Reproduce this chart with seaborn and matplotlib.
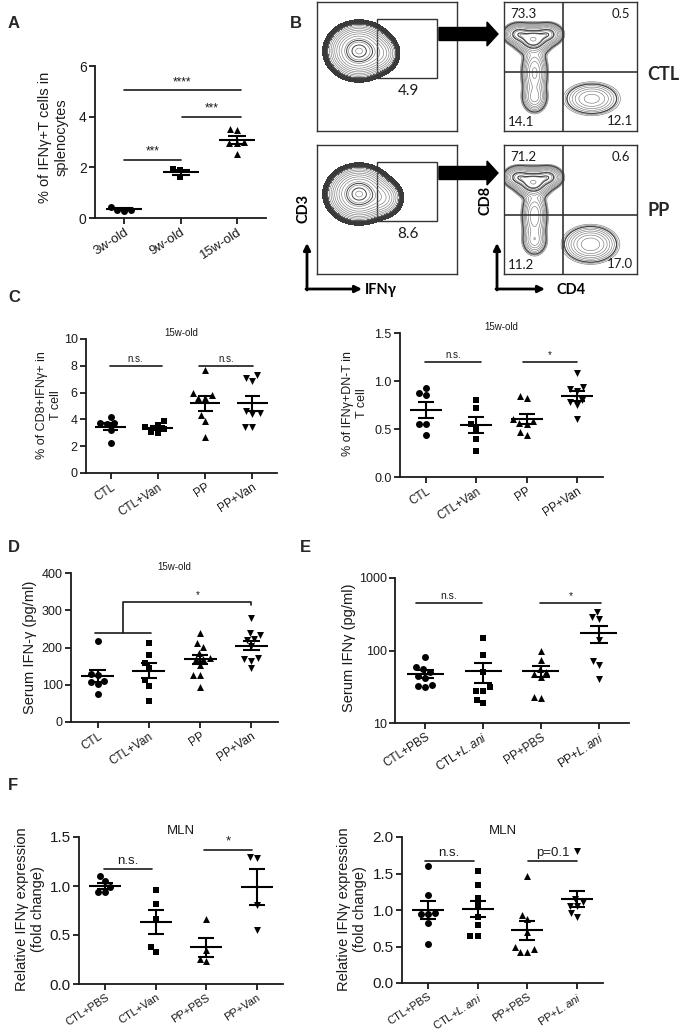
import numpy as np
import pandas as pd
import seaborn as sns
import matplotlib.pyplot as plt
from matplotlib.patches import FancyArrow, Rectangle

W, H = 685, 1033

# Panel A: % IFNg+ T cells in splenocytes by age
ages = ['3w-old', '9w-old', '15w-old']
a_3w = [0.45, 0.33, 0.33, 0.27]
a_9w = [1.92, 1.88, 1.60]
a_15w = [3.46, 3.53, 3.00, 2.97, 2.95, 2.52]

# Panel C / D: vancomycin groups
van_groups = ['CTL', 'CTL+Van', 'PP', 'PP+Van']
c_cd8_ctl = [3.75, 3.70, 3.65, 4.15, 3.20, 2.25]
c_cd8_van = [3.60, 3.40, 3.85, 3.00, 3.05, 3.30]
c_cd8_pp = [7.70, 5.80, 5.60, 5.60, 6.00, 4.30, 3.90, 2.70]
c_cd8_ppvan = [7.30, 6.90, 7.10, 4.60, 4.40, 4.50, 3.40, 3.40]

c_dn_ctl = [0.93, 0.85, 0.87, 0.55, 0.55, 0.44]
c_dn_van = [0.80, 0.72, 0.55, 0.50, 0.40, 0.27]
c_dn_pp = [0.82, 0.84, 0.60, 0.56, 0.55, 0.58, 0.44, 0.47]
c_dn_ppvan = [1.08, 0.94, 0.92, 0.90, 0.80, 0.75, 0.78, 0.60]

d_ctl = [217, 130, 125, 110, 108, 103, 74]
d_van = [213, 180, 159, 144, 112, 97, 57]
d_pp = [240, 213, 202, 186, 171, 170, 168, 153, 126, 126, 93]
d_ppvan = [279, 238, 234, 223, 220, 205, 171, 170, 165, 146]

# Panel E: L. animalis groups (log scale)
lani_groups = ['CTL+PBS', 'CTL+$\\it{L.ani}$', 'PP+PBS', 'PP+$\\it{L.ani}$']
e_ctl_pbs = [81, 59, 56, 50, 45, 42, 33, 32, 31]
e_ctl_lani = [149, 88, 50, 28, 28, 31, 19, 21]
e_pp_pbs = [100, 73, 56, 50, 47, 43, 22, 23]
e_pp_lani = [336, 286, 272, 141, 72, 63, 40]

# Panel F: MLN IFNg expression
mln_van_groups = ['CTL+PBS', 'CTL+Van', 'PP+PBS', 'PP+Van']
f_ctl_pbs = [1.10, 1.05, 0.99, 0.94, 0.94]
f_ctl_van = [0.96, 0.82, 0.66, 0.38, 0.33]
f_pp_pbs = [0.66, 0.35, 0.23, 0.26]
f_pp_van = [1.29, 1.30, 0.81, 0.55]

f2_ctl_pbs = [1.60, 1.20, 0.96, 0.95, 0.94, 0.82, 0.54]
f2_ctl_lani = [1.53, 1.34, 1.17, 1.07, 0.91, 0.65, 0.65, 0.80]
f2_pp_pbs = [1.46, 0.93, 0.87, 0.70, 0.46, 0.43, 0.43, 0.50]
f2_pp_lani = [1.81, 1.15, 1.06, 1.06, 1.11, 0.96, 0.90]

# Panel B: flow populations (centre x, centre y, sd x, sd y, weight), box units
ifn_pops_ctl = [(0.30, 0.62, 0.075, 0.07, 1.0), (0.45, 0.60, 0.05, 0.055, 0.12)]
ifn_pops_pp = [(0.30, 0.62, 0.075, 0.07, 1.0), (0.46, 0.59, 0.055, 0.055, 0.16)]
cd_pops_ctl = [(0.22, 0.71, 0.055, 0.045, 1.0), (0.11, 0.75, 0.045, 0.035, 0.55),
               (0.33, 0.75, 0.045, 0.035, 0.55), (0.23, 0.45, 0.04, 0.09, 0.35),
               (0.23, 0.26, 0.04, 0.05, 0.25), (0.66, 0.25, 0.09, 0.055, 0.18)]
cd_pops_pp = [(0.22, 0.71, 0.055, 0.045, 1.0), (0.11, 0.75, 0.045, 0.035, 0.55),
              (0.33, 0.75, 0.045, 0.035, 0.55), (0.23, 0.45, 0.04, 0.09, 0.30),
              (0.23, 0.26, 0.04, 0.05, 0.18), (0.65, 0.23, 0.085, 0.06, 0.30)]
ifn_gates = ['4.9', '8.6']
quad_ctl = ['73.3', '0.5', '14.1', '12.1']
quad_pp = ['71.2', '0.6', '11.2', '17.0']

sns.set_style('ticks')
plt.rcParams['font.family'] = ['Liberation Sans', 'DejaVu Sans']
plt.rcParams['mathtext.fontset'] = 'custom'
plt.rcParams['mathtext.it'] = 'Liberation Sans:italic'
plt.rcParams['mathtext.rm'] = 'Liberation Sans'
INK = '#1a1a1a'

fig = plt.figure(figsize=(W / 100, H / 100), dpi=100)


def px_axes(l, t, r, b):
    return fig.add_axes([l / W, 1 - b / H, (r - l) / W, (b - t) / H])


def dot_panel(ax, cats, vals, markers, ylim, yticks, ylabels, tick_fs, xfs, log=False):
    df = pd.DataFrame({'group': np.repeat(cats, [len(v) for v in vals]),
                       'value': np.concatenate(vals)})
    for cat, mk in zip(cats, markers):
        sns.swarmplot(data=df[df['group'] == cat], x='group', y='value', order=cats,
                      marker=mk, color='black', size=5, ax=ax,
                      log_scale=True if log else None, zorder=3)
    for i, v in enumerate(vals):
        m = np.mean(v)
        se = np.std(v, ddof=1) / np.sqrt(len(v))
        ax.hlines(m, i - 0.32, i + 0.32, color='black', lw=1.5, zorder=4)
        ax.vlines(i, m - se, m + se, color='black', lw=1.5, zorder=4)
        ax.hlines([m - se, m + se], i - 0.16, i + 0.16, color='black', lw=1.5, zorder=4)
    ax.set_xlim(-0.52, len(cats) - 0.48)
    ax.set_ylim(*ylim)
    ax.set_yticks(yticks)
    ax.set_yticklabels(ylabels, fontsize=tick_fs, color=INK)
    ax.minorticks_off()
    ax.set_xticks(range(len(cats)))
    ax.set_xticklabels(cats, rotation=33, ha='right', rotation_mode='anchor',
                       fontsize=xfs, color=INK)
    ax.set_xlabel('')
    ax.set_ylabel('')
    sns.despine(ax=ax)
    for s in ['left', 'bottom']:
        ax.spines[s].set_linewidth(1.3)
        ax.spines[s].set_color(INK)
    ax.tick_params(length=4, width=1.3, color=INK, pad=2)


def sig(ax, x0, x1, y, label, fs):
    ax.plot([x0, x1], [y, y], color=INK, lw=1.2, clip_on=False)
    ax.annotate(label, ((x0 + x1) / 2, y), xytext=(0, 1.5), textcoords='offset points',
                ha='center', va='bottom', fontsize=fs, color=INK)


def title(ax, text, fs):
    ax.set_title(text, fontsize=fs, pad=2, color=INK)


# ---- A
ax = px_axes(95, 66, 266, 218)
dot_panel(ax, ages, [a_3w, a_9w, a_15w], ['o', 's', '^'], (0, 6), [0, 2, 4, 6],
          ['0', '2', '4', '6'], 10, 9.5)
sig(ax, 0, 1.0, 2.3, '***', 8.5)
sig(ax, 1.03, 2.07, 4.0, '***', 8.5)
sig(ax, 0, 2.07, 5.05, '****', 8.5)

# ---- C left
ax = px_axes(86, 339, 277, 473)
dot_panel(ax, van_groups, [c_cd8_ctl, c_cd8_van, c_cd8_pp, c_cd8_ppvan], ['o', 's', '^', 'v'],
          (0, 10), [0, 2, 4, 6, 8, 10], ['0', '2', '4', '6', '8', '10'], 9, 8.5)
title(ax, '15w-old', 7)
sig(ax, -0.02, 1.08, 7.95, 'n.s.', 7)
sig(ax, 1.88, 3.02, 7.95, 'n.s.', 7)

# ---- C right
ax = px_axes(400, 333, 603, 477)
dot_panel(ax, van_groups, [c_dn_ctl, c_dn_van, c_dn_pp, c_dn_ppvan], ['o', 's', '^', 'v'],
          (0, 1.5), [0, 0.5, 1.0, 1.5], ['0.0', '0.5', '1.0', '1.5'], 9, 8.5)
title(ax, '15w-old', 7)
sig(ax, -0.02, 1.1, 1.2, 'n.s.', 7)
sig(ax, 1.92, 3.0, 1.2, '*', 7)

# ---- D
ax = px_axes(71, 573, 278, 722)
dot_panel(ax, van_groups, [d_ctl, d_van, d_pp, d_ppvan], ['o', 's', '^', 'v'],
          (0, 400), [0, 100, 200, 300, 400], ['0', '100', '200', '300', '400'], 9, 8.5)
title(ax, '15w-old', 7)
ax.plot([-0.06, 1.05], [238, 238], color=INK, lw=1.2)
ax.plot([0.5, 0.5, 3.0, 3.0], [238, 323, 323, 313], color=INK, lw=1.2)
ax.annotate('*', (1.95, 323), xytext=(0, 1.5), textcoords='offset points',
            ha='center', va='bottom', fontsize=7, color=INK)

# ---- E
ax = px_axes(395, 578, 629, 723)
dot_panel(ax, lani_groups, [e_ctl_pbs, e_ctl_lani, e_pp_pbs, e_pp_lani], ['o', 's', '^', 'v'],
          (10, 1000), [10, 100, 1000], ['10', '100', '1000'], 9, 8.5, log=True)
sig(ax, -0.15, 0.98, 450, 'n.s.', 7.5)
sig(ax, 1.98, 3.04, 450, '*', 7.5)

# ---- F left
ax = px_axes(79, 837, 283, 984)
dot_panel(ax, mln_van_groups, [f_ctl_pbs, f_ctl_van, f_pp_pbs, f_pp_van], ['o', 's', '^', 'v'],
          (0, 1.5), [0, 0.5, 1.0, 1.5], ['0.0', '0.5', '1.0', '1.5'], 11, 8)
title(ax, 'MLN', 9.5)
sig(ax, -0.02, 0.92, 1.17, 'n.s.', 9.5)
sig(ax, 1.96, 2.9, 1.37, '*', 9.5)

# ---- F right
ax = px_axes(402, 837, 603, 983)
dot_panel(ax, lani_groups, [f2_ctl_pbs, f2_ctl_lani, f2_pp_pbs, f2_pp_lani], ['o', 's', '^', 'v'],
          (0, 2.0), [0, 0.5, 1.0, 1.5, 2.0], ['0.0', '0.5', '1.0', '1.5', '2.0'], 11, 8)
title(ax, 'MLN', 9.5)
sig(ax, -0.06, 0.92, 1.67, 'n.s.', 9.5)
sig(ax, 2.02, 3.0, 1.67, 'p=0.1', 9.5)

# ---- B: flow contour boxes
gx, gy = np.meshgrid(np.linspace(0, 1, 300), np.linspace(0, 1, 300))


def density(pops):
    z = np.zeros_like(gx)
    for mx, my, sx, sy, w in pops:
        z += w * np.exp(-0.5 * (((gx - mx) / sx) ** 2 + ((gy - my) / sy) ** 2))
    return z / z.max()


def flow_box(rect, z, ifn):
    ax = px_axes(*rect)
    if ifn:
        ax.contourf(gx, gy, z, levels=[0.0025, 0.012], colors=['#3a3a3a'])
        ax.contour(gx, gy, z, levels=np.geomspace(0.012, 0.95, 11), colors='#7a7a7a',
                   linewidths=0.45)
        ax.contour(gx, gy, z, levels=[0.5, 0.8], colors='#444444', linewidths=0.7)
    else:
        ax.contour(gx, gy, z, levels=np.geomspace(0.01, 0.95, 13), colors='#7a7a7a',
                   linewidths=0.45)
        ax.contour(gx, gy, z, levels=[0.02, 0.35, 0.6], colors='#444444', linewidths=0.8)
    ax.set_xlim(0, 1)
    ax.set_ylim(0, 1)
    ax.set_xticks([])
    ax.set_yticks([])
    for s in ax.spines.values():
        s.set_linewidth(1.0)
        s.set_color('#333333')
    return ax


for top, pops_i, pops_c, gate, quads in [(2, ifn_pops_ctl, cd_pops_ctl, ifn_gates[0], quad_ctl),
                                          (145, ifn_pops_pp, cd_pops_pp, ifn_gates[1], quad_pp)]:
    bl = flow_box((317, top, 457, top + 129), density(pops_i), True)
    bl.add_patch(Rectangle((0.43, 0.41), 0.43, 0.455, fill=False, lw=1.0, ec='#333333'))
    bl.text(0.65, 0.31, gate, ha='center', va='center', fontsize=11, family='Lato', color=INK)
    br = flow_box((504, top, 637, top + 129), density(pops_c), False)
    br.axvline(0.447, color='#333333', lw=1.2)
    br.axhline(0.46, color='#333333', lw=1.2)
    kw = dict(fontsize=9.5, family='Lato', color=INK, va='center')
    br.text(0.05, 0.91, quads[0], ha='left', **kw)
    br.text(0.95, 0.91, quads[1], ha='right', **kw)
    br.text(0.03, 0.07, quads[2], ha='left', **kw)
    br.text(0.97, 0.08, quads[3], ha='right', **kw)

# ---- overlay: arrows, panel letters, axis labels
ov = fig.add_axes([0, 0, 1, 1], zorder=10)
ov.set_xlim(0, W)
ov.set_ylim(H, 0)
ov.axis('off')
ov.patch.set_alpha(0)

for y in [34, 173]:
    ov.add_patch(FancyArrow(439, y, 59, 0, width=13, head_width=24, head_length=11,
                            length_includes_head=True, color='black'))

for x0, x1 in [(307, 362), (497, 545)]:
    ov.annotate('', xy=(x0, 243), xytext=(x0, 290),
                arrowprops=dict(arrowstyle='-|>', lw=2, color='black', mutation_scale=10,
                                shrinkA=0, shrinkB=0))
    ov.annotate('', xy=(x1, 289), xytext=(x0 - 1, 289),
                arrowprops=dict(arrowstyle='-|>', lw=2, color='black', mutation_scale=10,
                                shrinkA=0, shrinkB=0))

bkw = dict(fontsize=10.5, family='Lato', fontweight='bold', color='black', va='center')
ov.text(304, 208, 'CD3', rotation=90, ha='center', **bkw)
ov.text(365, 290, 'IFNγ', ha='left', **bkw)
ov.text(486, 200, 'CD8', rotation=90, ha='center', **bkw)
ov.text(557, 290, 'CD4', ha='left', **bkw)
ov.text(663, 74, 'CTL', ha='center', fontsize=13, family='Lato', fontweight='bold', va='center')
ov.text(659, 211, 'PP', ha='center', fontsize=13, family='Lato', fontweight='bold', va='center')

for letter, x, y in [('A', 8, 23), ('B', 290, 23), ('C', 8, 297), ('D', 8, 548),
                     ('E', 300, 548), ('F', 8, 786)]:
    ov.text(x, y, letter, fontsize=12, fontweight='bold', ha='left', va='center')

ylabs = [('% of IFNγ+T cells in\nsplenocytes', 53, 137, 10.5),
         ('% of CD8+IFNγ+ in\nT cell', 49, 405, 9),
         ('% of IFNγ+DN-T in\nT cell', 355, 403, 9),
         ('Serum IFN-γ (pg/ml)', 30, 647, 10.5),
         ('Serum IFNγ (pg/ml)', 349, 648, 10.5),
         ('Relative IFNγ expression\n(fold change)', 30, 909, 10.5),
         ('Relative IFNγ expression\n(fold change)', 352, 909, 10.5)]
for text, x, y, fs in ylabs:
    ov.text(x, y, text, rotation=90, ha='center', va='center', multialignment='center',
            fontsize=fs, color=INK, linespacing=1.2)

fig.savefig('out.png', dpi=100)
